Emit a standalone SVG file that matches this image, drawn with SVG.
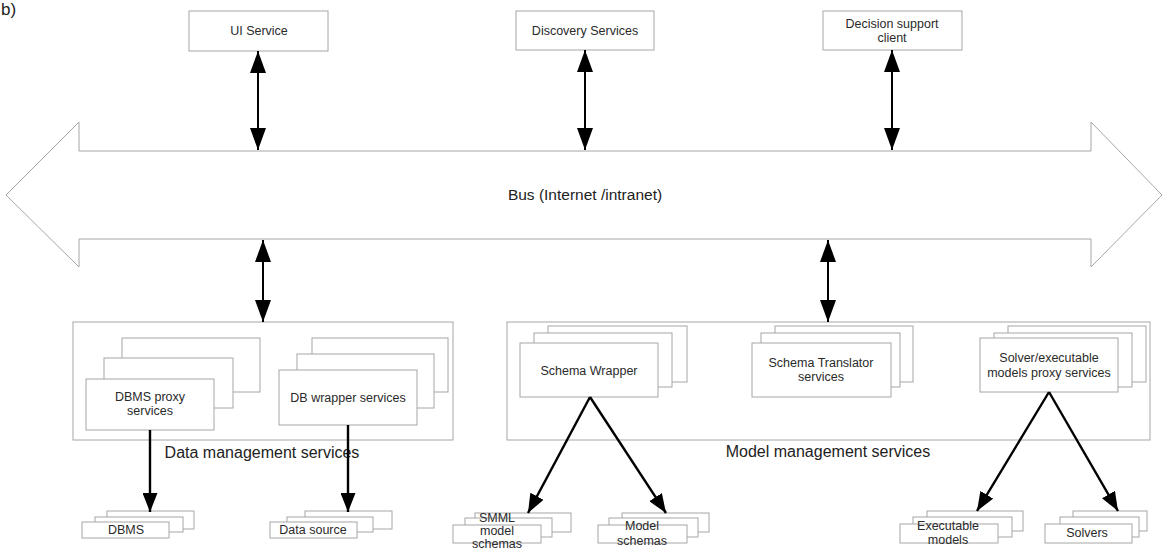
<svg xmlns="http://www.w3.org/2000/svg" width="1163" height="552" viewBox="0 0 1163 552">
<style>
  .box{fill:#fff;stroke:#a6a6a6;stroke-width:1}
  .t{font-family:"Liberation Sans",Arial,sans-serif;font-size:12.5px;fill:#2a2a2a;text-anchor:middle}
  .big{font-family:"Liberation Sans",Arial,sans-serif;font-size:16px;fill:#222;text-anchor:middle}
  .bus{font-family:"Liberation Sans",Arial,sans-serif;font-size:15.5px;fill:#222;text-anchor:middle}
  .dbl{stroke:#000;stroke-width:2;fill:none;marker-start:url(#ah);marker-end:url(#ah)}
  .one{stroke:#000;stroke-width:2.4;fill:none;marker-end:url(#ah2)}
</style>
<defs>
  <marker id="ah" markerUnits="userSpaceOnUse" markerWidth="22" markerHeight="16" refX="22" refY="8" orient="auto-start-reverse">
    <path d="M0,0 L22,8 L0,16 z" fill="#000"/>
  </marker>
  <marker id="ah2" markerUnits="userSpaceOnUse" markerWidth="19" markerHeight="15" refX="19" refY="7.5" orient="auto">
    <path d="M0,0 L19,7.5 L0,15 z" fill="#000"/>
  </marker>
</defs>
<rect width="1163" height="552" fill="#fff"/>
<text x="1" y="15" style="font-family:'Liberation Sans',Arial,sans-serif;font-size:17px;fill:#222">b)</text>

<g id="bus">
  <polygon class="box" points="6,195 79,122 79,151 1091,151 1091,122 1162,195 1091,267 1091,239 79,239 79,267"/>
  <text class="bus" x="585" y="200">Bus (Internet /intranet)</text>
</g>

<g id="ui-service">
  <rect class="box" x="189" y="11" width="139" height="40"/>
  <text class="t" x="259" y="35">UI Service</text>
</g>
<g id="discovery-services">
  <rect class="box" x="516" y="11" width="138" height="39"/>
  <text class="t" x="585" y="35">Discovery Services</text>
</g>
<g id="decision-support-client">
  <rect class="box" x="823" y="11" width="139" height="39"/>
  <text class="t" x="892" y="28">Decision support</text>
  <text class="t" x="892" y="42">client</text>
</g>

<g id="data-management-services">
  <rect class="box" x="73" y="322" width="380" height="118"/>
  <text class="big" x="262" y="458">Data management services</text>
</g>
<g id="dbms-proxy-services">
  <rect class="box" x="122" y="338" width="138" height="54"/>
  <rect class="box" x="104" y="358" width="129" height="50"/>
  <rect class="box" x="86" y="379" width="128" height="51"/>
  <text class="t" x="150" y="401">DBMS proxy</text>
  <text class="t" x="150" y="415">services</text>
</g>
<g id="db-wrapper-services">
  <rect class="box" x="312" y="338" width="136" height="54"/>
  <rect class="box" x="297" y="354" width="137" height="54"/>
  <rect class="box" x="279" y="370" width="138" height="55"/>
  <text class="t" x="348" y="402">DB wrapper services</text>
</g>

<g id="model-management-services">
  <rect class="box" x="507" y="322" width="643" height="118"/>
  <text class="big" x="828" y="457">Model management services</text>
</g>
<g id="schema-wrapper">
  <rect class="box" x="548" y="326" width="139" height="56"/>
  <rect class="box" x="534" y="333" width="138" height="54"/>
  <rect class="box" x="520" y="343" width="138" height="54"/>
  <text class="t" x="589" y="375">Schema Wrapper</text>
</g>
<g id="schema-translator-services">
  <rect class="box" x="775" y="326" width="138" height="56"/>
  <rect class="box" x="761" y="333" width="139" height="54"/>
  <rect class="box" x="752" y="343" width="139" height="54"/>
  <text class="t" x="821" y="367">Schema Translator</text>
  <text class="t" x="821" y="381">services</text>
</g>
<g id="solver-proxy-services">
  <rect class="box" x="1008" y="326" width="138" height="56"/>
  <rect class="box" x="994" y="333" width="138" height="54"/>
  <rect class="box" x="980" y="338" width="138" height="54"/>
  <text class="t" x="1049" y="362">Solver/executable</text>
  <text class="t" x="1049" y="377">models proxy services</text>
</g>

<g id="dbms">
  <rect class="box" x="107" y="511" width="87" height="18"/>
  <rect class="box" x="95" y="517" width="88" height="15"/>
  <rect class="box" x="82" y="522" width="87" height="16"/>
  <text class="t" x="126" y="534">DBMS</text>
</g>
<g id="data-source">
  <rect class="box" x="305" y="511" width="87" height="18"/>
  <rect class="box" x="287" y="517" width="86" height="15"/>
  <rect class="box" x="270" y="522" width="87" height="16"/>
  <text class="t" x="313" y="534">Data source</text>
</g>
<g id="smml-model-schemas">
  <rect class="box" x="475" y="513" width="96" height="19"/>
  <rect class="box" x="465" y="518" width="87" height="19"/>
  <rect class="box" x="453" y="525" width="88" height="18"/>
  <text class="t" x="497" y="522">SMML</text>
  <text class="t" x="497" y="535">model</text>
  <text class="t" x="497" y="548">schemas</text>
</g>
<g id="model-schemas">
  <rect class="box" x="622" y="513" width="87" height="19"/>
  <rect class="box" x="609" y="518" width="89" height="19"/>
  <rect class="box" x="598" y="525" width="89" height="18"/>
  <text class="t" x="642" y="530">Model</text>
  <text class="t" x="642" y="545">schemas</text>
</g>
<g id="executable-models">
  <rect class="box" x="927" y="511" width="96" height="20"/>
  <rect class="box" x="913" y="517" width="99" height="20"/>
  <rect class="box" x="900" y="524" width="98" height="19"/>
  <text class="t" x="948" y="530">Executable</text>
  <text class="t" x="948" y="544">models</text>
</g>
<g id="solvers">
  <rect class="box" x="1073" y="511" width="74" height="20"/>
  <rect class="box" x="1060" y="517" width="79" height="20"/>
  <rect class="box" x="1045" y="524" width="87" height="19"/>
  <text class="t" x="1087" y="537">Solvers</text>
</g>

<g id="connectors">
  <line class="dbl" x1="258" y1="51" x2="258" y2="150"/>
  <line class="dbl" x1="585" y1="50" x2="585" y2="150"/>
  <line class="dbl" x1="892" y1="50" x2="892" y2="150"/>
  <line class="dbl" x1="263" y1="240" x2="263" y2="322"/>
  <line class="dbl" x1="828" y1="240" x2="828" y2="322"/>
  <line class="one" x1="150" y1="430" x2="150" y2="512"/>
  <line class="one" x1="348" y1="425" x2="348" y2="512"/>
  <line class="one" x1="590" y1="397" x2="528" y2="513"/>
  <line class="one" x1="590" y1="397" x2="666" y2="513"/>
  <line class="one" x1="1049" y1="392" x2="977" y2="511"/>
  <line class="one" x1="1049" y1="392" x2="1118" y2="511"/>
</g>
</svg>
